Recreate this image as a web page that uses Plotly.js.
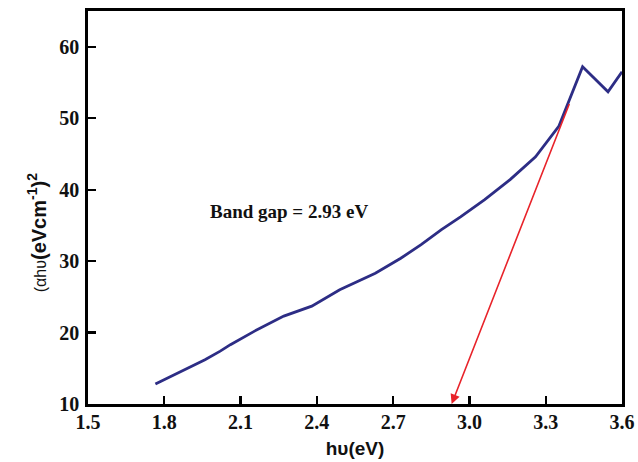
<!DOCTYPE html>
<html>
<head>
<meta charset="utf-8">
<script src="https://cdn.plot.ly/plotly-3.0.1.min.js"></script>
<style>html,body{margin:0;padding:0;background:#fff;}#chart{width:638px;height:462px;}</style>
</head>
<body>
<div id="chart"></div>
<script>
var energy = [1.765, 1.86, 1.96, 2.02, 2.06, 2.155, 2.27, 2.38, 2.49, 2.63, 2.73, 2.81, 2.89, 2.965, 3.06, 3.16, 3.26, 3.352, 3.445, 3.545, 3.60];
var absorb = [12.8, 14.5, 16.2, 17.4, 18.3, 20.2, 22.3, 23.7, 26.0, 28.3, 30.4, 32.3, 34.4, 36.2, 38.6, 41.4, 44.6, 48.9, 57.2, 53.7, 56.5];
var fitStart = [3.395, 52.2];
var fitEnd = [2.93, 10];
var xTicks = [1.5, 1.8, 2.1, 2.4, 2.7, 3.0, 3.3, 3.6];
var xTickText = ['1.5', '1.8', '2.1', '2.4', '2.7', '3.0', '3.3', '3.6'];
var yTicks = [10, 20, 30, 40, 50, 60];
var bandGapLabel = 'Band gap = 2.93 eV';
var yTitle = '<span style="font-weight:normal;font-size:16px">(αhυ</span><b>(eVcm<sup>-1</sup>)<sup>2</sup></b>';

var trace = {
  x: energy, y: absorb, type: 'scatter', mode: 'lines',
  line: {color: '#2d2d85', width: 2.8}, hoverinfo: 'skip'
};
var tickFont = {family: 'Liberation Serif, Times New Roman, serif', size: 20, color: '#111', weight: 'bold'};
var layout = {
  width: 638, height: 462,
  margin: {l: 88, r: 16, t: 11, b: 58},
  paper_bgcolor: '#fff', plot_bgcolor: '#fff',
  showlegend: false,
  xaxis: {
    range: [1.5, 3.6], tickvals: xTicks, ticktext: xTickText,
    ticks: 'inside', ticklen: 8, tickwidth: 2.2, tickcolor: '#000',
    showline: true, linecolor: '#000', linewidth: 2.8, mirror: true,
    showgrid: false, zeroline: false, tickfont: tickFont, ticklabelstandoff: -2,
    title: {text: '<b>hυ(eV)</b>', font: {family: 'Liberation Sans, Arial, sans-serif', size: 19, color: '#111'}, standoff: 10}
  },
  yaxis: {
    range: [10, 65], tickvals: yTicks,
    ticks: 'inside', ticklen: 8, tickwidth: 2.2, tickcolor: '#000',
    showline: true, linecolor: '#000', linewidth: 2.8, mirror: true,
    showgrid: false, zeroline: false, tickfont: tickFont, ticklabelstandoff: 2
  },
  annotations: [
    {x: fitEnd[0], y: fitEnd[1], ax: fitStart[0], ay: fitStart[1], xref: 'x', yref: 'y', axref: 'x', ayref: 'y',
     text: '', showarrow: true, arrowhead: 2, arrowsize: 1.2, arrowwidth: 1.6, arrowcolor: '#e8232a', standoff: 0},
    {x: 2.29, y: 36.9, xref: 'x', yref: 'y', text: '<b>' + bandGapLabel + '</b>', showarrow: false,
     font: {family: 'Liberation Serif, Times New Roman, serif', size: 19, color: '#111'}},
    {x: -0.097, y: 0.435, xref: 'paper', yref: 'paper', xanchor: 'center', yanchor: 'middle', textangle: -90,
     text: yTitle, showarrow: false,
     font: {family: 'Liberation Sans, Arial, sans-serif', size: 20, color: '#111'}}
  ]
};
Plotly.newPlot('chart', [trace], layout, {displayModeBar: false, staticPlot: true});
</script>
</body>
</html>
